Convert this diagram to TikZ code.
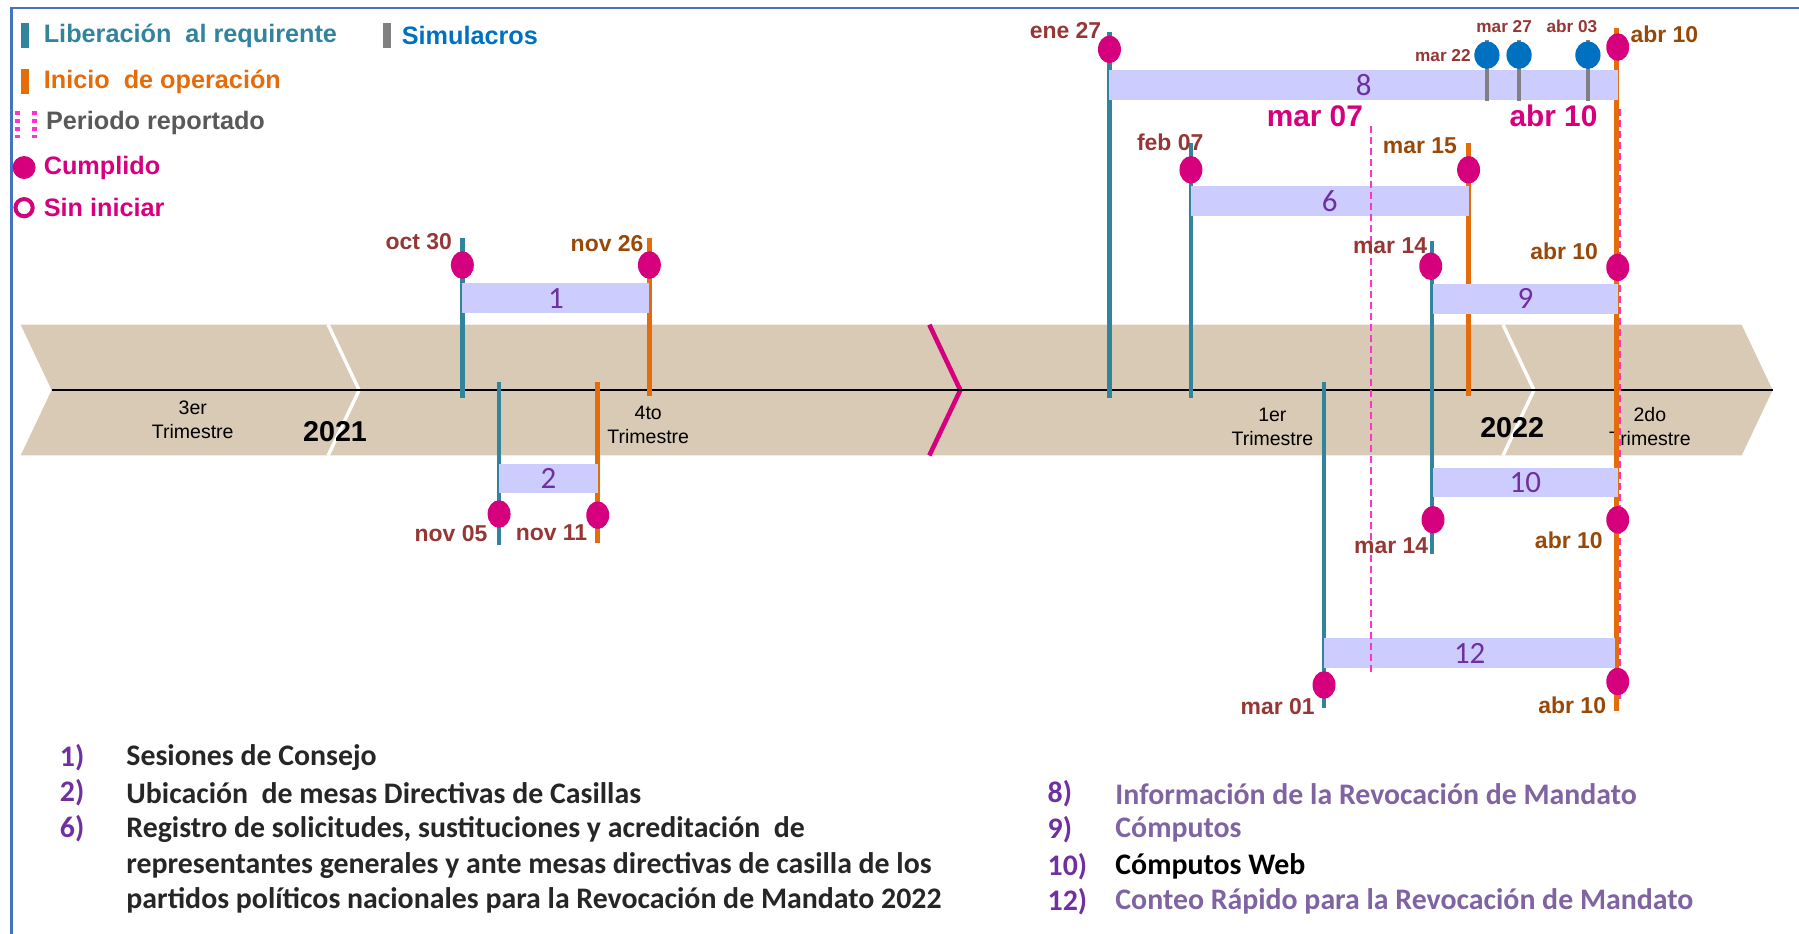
\documentclass[tikz,border=0pt]{standalone}
\usepackage{fontspec}
\setmainfont{Liberation Sans}
\newfontfamily\calib{Carlito}
\usepackage{tikz}

\definecolor{libc}{RGB}{49,132,155}
\definecolor{inic}{RGB}{228,108,10}
\definecolor{simc}{RGB}{128,128,128}
\definecolor{blc}{RGB}{0,112,192}
\definecolor{magc}{RGB}{214,0,127}
\definecolor{pinkc}{RGB}{255,51,204}
\definecolor{barc}{RGB}{204,204,255}
\definecolor{numc}{RGB}{112,48,160}
\definecolor{redc}{RGB}{149,55,53}
\definecolor{brc}{RGB}{152,72,7}
\definecolor{bandc}{RGB}{216,202,180}
\definecolor{framec}{RGB}{68,114,196}
\definecolor{txtc}{RGB}{38,38,38}
\definecolor{lilac}{RGB}{128,100,162}
\definecolor{grayc}{RGB}{89,89,89}

\newcommand\fsz[2]{\fontsize{#1bp}{#2bp}\selectfont}

\begin{document}
\begin{tikzpicture}[scale=1.1473, transform shape, x=1bp, y=-1bp,
    lib/.style={libc, line width=4.6bp},
    ini/.style={inic, line width=4.6bp},
    sim/.style={simc, line width=4.6bp},
    bar/.style={fill=barc, inner sep=0pt, text=numc, font=\calib\fsz{27}{27}},
    dt/.style={inner sep=0pt, text=redc, font=\bfseries\fsz{20}{20}},
    dto/.style={dt, text=brc},
    lg/.style={anchor=west, inner sep=0pt, font=\bfseries\fsz{22}{22}},
    tri/.style={inner sep=0pt, align=center, font=\fsz{17}{21}},
    li/.style={anchor=west, inner sep=0pt, align=left, font=\calib\bfseries\fsz{26}{31}}]
    \useasboundingbox (0,0) rectangle (1568,814);

    % Frame
    \draw[framec, line width=2.3bp] (10,814) -- (10,7) -- (1568,7);

    % Legend
    \fill[libc] (18,20) rectangle (25,42);
    \node[lg, text=libc] (lgLib) at (38,31) {Liberación \ al requirente};
    \fill[simc] (334,20) rectangle (341,42);
    \node[lg, text=blc] (lgSim) at (350,31) {Simulacros};
    \fill[inic] (18,60) rectangle (25,82);
    \node[lg, text=inic] (lgIni) at (38,71) {Inicio \ de operación};
    \foreach \x in {15,30}
        \draw[pinkc, line width=5bp, dash pattern=on 4bp off 4bp] (\x,97) -- (\x,120);
    \node[lg, text=grayc] (lgPer) at (40,107) {Periodo reportado};
    \fill[magc] (21,146) circle (10bp);
    \node[lg, text=magc] (lgCum) at (38,146) {Cumplido};
    \draw[magc, line width=4bp] (21,181) circle (7.5bp);
    \node[lg, text=magc] (lgSin) at (38,181) {Sin iniciar};

    % Timeline band
    \fill[bandc] (18,283) -- (1518,283) -- (1545,340) -- (1518,397) -- (18,397) -- (45,340) -- cycle;
    \foreach \x in {286,1310}
        \draw[white, line width=3.4bp] (\x,283) -- (\x+27,340) -- (\x,397);
    \draw[magc, line width=4.6bp] (810,283) -- (837,340) -- (810,397);
    \draw[black, line width=2.8bp] (45,340) -- (1545,340);

    % Quarters and years
    \node[tri] (q3) at (168,366) {3er\\Trimestre};
    \node[tri] (q4) at (565,370) {4to\\Trimestre};
    \node[tri] (q1) at (1109,372) {1er\\Trimestre};
    \node[tri] (q2) at (1438,372) {2do\\Trimestre};
    \node[inner sep=0pt, font=\bfseries\fsz{25}{25}] (y21) at (292,376) {2021};
    \node[inner sep=0pt, font=\bfseries\fsz{25}{25}] (y22) at (1318,373) {2022};

    % Release and start lines
    \foreach \x/\a/\b in {403/207/347, 435/333/475, 967/28/347, 1038/125/347, 1248/210/483, 1154/333/617}
        \draw[lib] (\x,\a) -- (\x,\b);
    \foreach \x/\a/\b in {566/207/345, 521/333/473, 1280/125/345, 1409/24/620}
        \draw[ini] (\x,\a) -- (\x,\b);

    % Activity bars
    \foreach \n/\cx/\cy/\w in {1/484.5/260/163, 2/478/417/86, 8/1188.5/74/443, 6/1159/175/242,
                                9/1329.5/260.5/161, 10/1329.5/420.5/161, 12/1281/569.5/254}
        \node[bar, minimum width=\w bp, minimum height=26bp] (b\n) at (\cx,\cy) {\n};

    % Drills
    \foreach \x in {1296,1324,1384}
        \draw[sim] (\x,35) -- (\x,88);

    % Reported period
    \draw[pinkc, line width=2.8bp, dash pattern=on 7bp off 4bp] (1195,110) -- (1195,588);
    \draw[pinkc, line width=2.8bp, dash pattern=on 7bp off 4bp] (1412,95) -- (1412,612);

    % Milestones
    \foreach \x/\y in {403/231, 566/231, 435/448, 521/449, 967/43, 1410/41, 1038/148, 1280/148,
                       1247/232, 1410/233, 1249/453, 1410/453, 1154/597, 1410/594}
        \fill[magc] (\x,\y) ellipse (10bp and 12bp);
    \foreach \x in {1296,1324,1384}
        \fill[blc] (\x,48) ellipse (11bp and 12bp);

    % Dates
    \node[dt, anchor=east] (dOct30) at (394,211) {oct 30};
    \node[dto, anchor=east] (dNov26) at (561,212) {nov 26};
    \node[dt, anchor=east] (dNov05) at (425,465) {nov 05};
    \node[dt, anchor=east] (dNov11) at (512,464) {nov 11};
    \node[dt, anchor=east] (dEne27) at (960,27) {ene 27};
    \node[dto, anchor=west] (dAbrA) at (1421,30) {abr 10};
    \node[dt, anchor=east, font=\bfseries\fsz{15}{15}] (dMar22) at (1282,48) {mar 22};
    \node[dt, font=\bfseries\fsz{15}{15}] (dMar27) at (1311,23) {mar 27};
    \node[dt, font=\bfseries\fsz{15}{15}] (dAbr03) at (1370,23) {abr 03};
    \node[dt, text=magc, font=\bfseries\fsz{26}{26}] (pIni) at (1146,101) {mar 07};
    \node[dt, text=magc, font=\bfseries\fsz{26}{26}] (pFin) at (1354,101) {abr 10};
    \node[dt, anchor=east] (dFeb07) at (1049,124) {feb 07};
    \node[dto, anchor=east] (dMar15) at (1270,127) {mar 15};
    \node[dt, anchor=east] (dMar14a) at (1244,214) {mar 14};
    \node[dto, anchor=east] (dAbrB) at (1393,219) {abr 10};
    \node[dt, anchor=east] (dMar14b) at (1245,476) {mar 14};
    \node[dto, anchor=east] (dAbrC) at (1397,471) {abr 10};
    \node[dt, anchor=east] (dMar01) at (1146,616) {mar 01};
    \node[dto, anchor=east] (dAbrD) at (1400,615) {abr 10};

    % Activity list
    \foreach \n/\y in {1/660, 2/691, 6/722}
        \node[li, text=numc] (n\n) at (52,\y) {\n)};
    \node[li, text=txtc] (t1) at (110,660) {Sesiones de Consejo};
    \node[li, text=txtc] (t2) at (110,691) {Ubicación \ de mesas Directivas de Casillas};
    \node[li, text=txtc] (t6) at (110,754) {Registro de solicitudes, sustituciones y acreditación \ de\\
        representantes generales y ante mesas directivas de casilla de los\\
        partidos políticos nacionales para la Revocación de Mandato 2022};
    \foreach \n/\y in {8/692, 9/723, 10/755, 12/786}
        \node[li, text=numc] (n\n) at (913,\y) {\n)};
    \node[li, text=lilac] (t8) at (972,692) {Información de la Revocación de Mandato};
    \node[li, text=lilac] (t9) at (972,723) {Cómputos};
    \node[li, text=black] (t10) at (972,755) {Cómputos Web};
    \node[li, text=lilac] (t12) at (972,786) {Conteo Rápido para la Revocación de Mandato};
\end{tikzpicture}
\end{document}
